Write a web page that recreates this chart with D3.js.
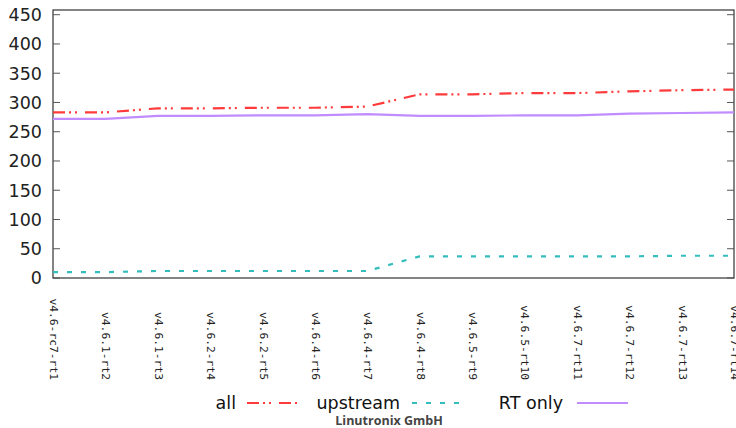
<!DOCTYPE html>
<html><head><meta charset="utf-8">
<script src="https://cdn.jsdelivr.net/npm/d3@7"></script>
<style>body{margin:0;background:#fff}</style>
</head><body>
<svg id="c" width="736" height="428"></svg>
<script>
const categories = ["v4.6-rc7-rt1","v4.6.1-rt2","v4.6.1-rt3","v4.6.2-rt4","v4.6.2-rt5","v4.6.4-rt6","v4.6.4-rt7","v4.6.4-rt8","v4.6.5-rt9","v4.6.5-rt10","v4.6.7-rt11","v4.6.7-rt12","v4.6.7-rt13","v4.6.7-rt14"];
const allVals = [283,283,290,290,291,291,293,314,314,316,316,319,321,322];
const upstreamVals = [10,10,12,12,12,12,12,37,37,37,37,37,38,38];
const rtOnlyVals = [272,272,277,277,278,278,280,277,277,278,278,281,282,283];
const yTicks = [0,50,100,150,200,250,300,350,400,450];
const seriesNames = ["all","upstream","RT only"];

const svg = d3.select("#c");
const L = 53, R = 734, T = 10, B = 278;
const x = d3.scalePoint().domain(categories).range([L, R]);
const y = d3.scaleLinear().domain([0, 450]).range([B, 14.7]);

// frame
svg.append("rect").attr("x", L).attr("y", T).attr("width", R - L).attr("height", B - T)
  .attr("fill", "none").attr("stroke", "#333").attr("stroke-width", 1.2);

// y ticks left & right (inward)
svg.append("g").selectAll("line.l").data(yTicks).join("line")
  .attr("x1", L).attr("x2", L + 7).attr("y1", d => y(d)).attr("y2", d => y(d))
  .attr("stroke", "#555").attr("stroke-width", 1);
svg.append("g").selectAll("line.r").data(yTicks).join("line")
  .attr("x1", R - 7).attr("x2", R).attr("y1", d => y(d)).attr("y2", d => y(d))
  .attr("stroke", "#555").attr("stroke-width", 1);
svg.append("g").selectAll("text").data(yTicks).join("text")
  .attr("x", 42).attr("y", d => y(d)).attr("dy", "0.36em")
  .attr("text-anchor", "end").attr("font-family", "DejaVu Sans").attr("font-size", 17.5)
  .attr("fill", "#222").text(d => d);

// x labels rotated
svg.append("g").selectAll("text").data(categories).join("text")
  .attr("transform", d => `translate(${x(d)},380) rotate(90)`)
  .attr("text-anchor", "end").attr("dominant-baseline", "middle")
  .attr("font-family", "DejaVu Sans Mono").attr("font-size", 11.3)
  .attr("fill", "#222").text(d => d);

const series = [
  {name: seriesNames[0], vals: allVals, color: "#ff3a3a", dash: "12,4,2,4,2,8"},
  {name: seriesNames[1], vals: upstreamVals, color: "#33bdbd", dash: "5,9"},
  {name: seriesNames[2], vals: rtOnlyVals, color: "#c08cff", dash: null}
];
const line = d3.line().x((d, i) => x(categories[i])).y(d => y(d));
series.forEach(s => {
  svg.append("path").attr("d", line(s.vals)).attr("fill", "none")
    .attr("stroke", s.color).attr("stroke-width", 2.2)
    .attr("stroke-dasharray", s.dash);
});

// legend
const leg = [
  {tx: 236, x1: 247, x2: 300},
  {tx: 400, x1: 412, x2: 460},
  {tx: 563, x1: 577, x2: 628}
];
series.forEach((s, i) => {
  const g = leg[i];
  svg.append("text").attr("x", g.tx).attr("y", 403).attr("dy", "0.36em")
    .attr("text-anchor", "end").attr("font-family", "DejaVu Sans").attr("font-size", 17.5)
    .attr("fill", "#111").text(s.name);
  svg.append("line").attr("x1", g.x1).attr("x2", g.x2).attr("y1", 403).attr("y2", 403)
    .attr("stroke", s.color).attr("stroke-width", 2.2).attr("stroke-dasharray", s.dash);
});

svg.append("text").attr("x", 389).attr("y", 425).attr("text-anchor", "middle")
  .attr("font-family", "Open Sans").attr("font-weight", "bold").attr("font-size", 12.5)
  .attr("fill", "#444").text("Linutronix GmbH");
</script>
</body></html>
